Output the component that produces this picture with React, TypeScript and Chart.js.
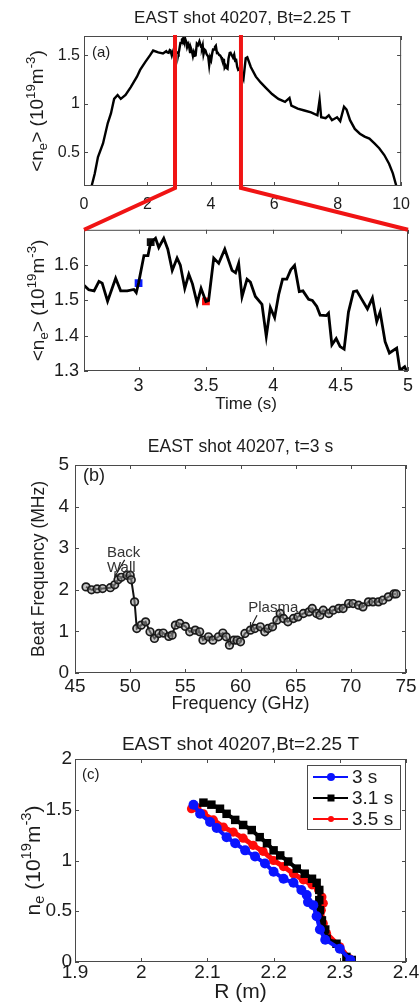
import React, { useEffect, useRef } from "react";
import { Chart, registerables } from "chart.js";

Chart.register(...registerables);

const FONT = '"Liberation Sans", Arial, Helvetica, sans-serif';
const TEXT = "#1c1c1c";
const FRAME = "#4a4a4a";

// ---------------- Panel (a): line-averaged density trace ----------------
const A_EARLY_T = [0.24, 0.34, 0.44, 0.6, 0.75, 0.85, 0.95, 1.06, 1.16, 1.31, 1.47, 1.67, 1.77, 1.93, 2.08, 2.18, 2.34, 2.49];
const A_EARLY_N = [0.15, 0.28, 0.45, 0.59, 0.8, 0.9, 1.05, 1.09, 1.05, 1.09, 1.17, 1.28, 1.35, 1.43, 1.5, 1.55, 1.53, 1.52];

// zoomed window 2.6 - 5 s
const Z_T = [2.595, 2.63, 2.67, 2.706, 2.73, 2.77, 2.83, 2.867, 2.916, 2.965, 2.983, 3.0, 3.04, 3.07, 3.089, 3.126, 3.15, 3.187, 3.217, 3.25, 3.286, 3.31, 3.343, 3.373, 3.4, 3.435, 3.464, 3.5, 3.52, 3.558, 3.595, 3.64, 3.694, 3.72, 3.743, 3.768, 3.805, 3.83, 3.867, 3.916, 3.948, 3.978, 4.01, 4.04, 4.069, 4.1, 4.13, 4.158, 4.193, 4.22, 4.262, 4.29, 4.323, 4.348, 4.393, 4.41, 4.435, 4.467, 4.496, 4.526, 4.558, 4.595, 4.62, 4.657, 4.699, 4.736, 4.768, 4.793, 4.83, 4.862, 4.916, 4.94, 4.975, 5.0];
const Z_N = [1.543, 1.53, 1.527, 1.554, 1.549, 1.498, 1.563, 1.527, 1.527, 1.531, 1.522, 1.549, 1.627, 1.627, 1.663, 1.676, 1.65, 1.676, 1.645, 1.585, 1.62, 1.6, 1.534, 1.574, 1.547, 1.492, 1.534, 1.497, 1.5, 1.62, 1.605, 1.645, 1.585, 1.578, 1.605, 1.51, 1.56, 1.552, 1.511, 1.489, 1.398, 1.48, 1.451, 1.516, 1.56, 1.56, 1.587, 1.599, 1.525, 1.527, 1.503, 1.5, 1.483, 1.458, 1.457, 1.464, 1.374, 1.392, 1.369, 1.362, 1.467, 1.525, 1.527, 1.503, 1.476, 1.507, 1.44, 1.467, 1.383, 1.351, 1.365, 1.302, 1.312, 1.29];

const A_LATE_T = [5.03, 5.1, 5.15, 5.26, 5.42, 5.57, 5.72, 5.93, 6.13, 6.34, 6.48, 6.54, 6.74, 6.95, 7.16, 7.36, 7.43, 7.48, 7.62, 7.72, 7.82, 7.98, 8.08, 8.2, 8.28, 8.39, 8.54, 8.7, 8.85, 9.0, 9.16, 9.31, 9.47, 9.62, 9.74, 9.85];
const A_LATE_N = [1.26, 1.47, 1.48, 1.38, 1.28, 1.22, 1.17, 1.1, 1.05, 1.02, 1.06, 0.98, 0.95, 0.93, 0.91, 0.88, 1.04, 0.86, 0.85, 0.88, 0.83, 0.86, 0.82, 0.97, 0.94, 0.83, 0.74, 0.69, 0.66, 0.64, 0.59, 0.54, 0.47, 0.38, 0.28, 0.15];

const TRACE_T = [...A_EARLY_T, ...Z_T, ...A_LATE_T];
const TRACE_N = [...A_EARLY_N, ...Z_N, ...A_LATE_N];

const A_X_TICKS = [0, 2, 4, 6, 8, 10];
const A_Y_TICKS = [0.5, 1, 1.5];
const ZOOM_MARK = [2.87, 4.95];

const Z_X_TICKS = [3, 3.5, 4, 4.5, 5];
const Z_Y_TICKS = [1.3, 1.4, 1.5, 1.6];
const MARK_T = [3.0, 3.09, 3.5];
const MARK_N = [1.549, 1.665, 1.497];

// ---------------- Panel (b): beat frequency ----------------
const B_FREQ = [46.0, 46.5, 47.0, 47.5, 48.2, 48.6, 48.9, 49.2, 49.7, 50.0, 50.1, 50.4, 50.6, 51.0, 51.4, 51.8, 52.2, 52.6, 53.0, 53.5, 53.8, 54.1, 54.5, 55.0, 55.4, 55.9, 56.3, 56.6, 57.1, 57.5, 58.0, 58.4, 58.7, 59.0, 59.4, 59.7, 60.0, 60.4, 60.9, 61.3, 61.8, 62.2, 62.5, 62.9, 63.3, 63.6, 63.9, 64.3, 64.8, 65.2, 65.7, 66.2, 66.5, 66.9, 67.2, 67.5, 68.0, 68.4, 68.9, 69.3, 69.8, 70.2, 70.7, 71.1, 71.6, 72.0, 72.5, 72.9, 73.4, 73.9, 74.1];
const B_BEAT = [2.07, 2.0, 2.02, 2.03, 2.05, 2.12, 2.24, 2.3, 2.35, 2.35, 2.24, 1.71, 1.07, 1.15, 1.23, 0.99, 0.83, 0.95, 0.96, 0.88, 0.91, 1.15, 1.19, 1.12, 0.99, 1.03, 0.99, 0.79, 0.87, 0.79, 0.87, 0.96, 0.87, 0.67, 0.79, 0.79, 0.75, 0.95, 1.03, 1.07, 1.11, 0.99, 1.07, 1.11, 1.27, 1.43, 1.31, 1.23, 1.31, 1.35, 1.43, 1.47, 1.55, 1.43, 1.39, 1.51, 1.43, 1.51, 1.55, 1.55, 1.67, 1.67, 1.63, 1.59, 1.71, 1.71, 1.71, 1.75, 1.83, 1.9, 1.9];
const B_X_TICKS = [45, 50, 55, 60, 65, 70, 75];
const B_Y_TICKS = [0, 1, 2, 3, 4, 5];
const B_NOTES = [
  { text: "Back", x: 47.9, y: 2.88 },
  { text: "Wall", x: 47.9, y: 2.52 },
  { text: "Plasma", x: 60.7, y: 1.56 },
];
const B_ARROWS = [
  { x1: 49.5, y1: 2.72, x2: 48.6, y2: 2.31 },
  { x1: 61.5, y1: 1.39, x2: 60.9, y2: 1.08 },
];

// ---------------- Panel (c): density profiles ----------------
const C_LABELS = ["3 s", "3.1 s", "3.5 s"];
const C_R_30 = [2.079, 2.089, 2.104, 2.114, 2.129, 2.142, 2.157, 2.172, 2.187, 2.2, 2.215, 2.23, 2.242, 2.25, 2.252, 2.26, 2.265, 2.27, 2.278, 2.3, 2.316];
const C_N_30 = [1.55, 1.46, 1.38, 1.32, 1.23, 1.17, 1.1, 1.04, 0.97, 0.89, 0.82, 0.78, 0.71, 0.66, 0.59, 0.56, 0.45, 0.32, 0.22, 0.13, 0.02];
const C_R_31 = [2.094, 2.106, 2.119, 2.129, 2.142, 2.154, 2.167, 2.179, 2.19, 2.2, 2.21, 2.222, 2.235, 2.247, 2.258, 2.265, 2.269, 2.269, 2.27, 2.273, 2.278, 2.28, 2.295, 2.31, 2.318];
const C_N_31 = [1.57, 1.55, 1.51, 1.46, 1.4, 1.35, 1.3, 1.23, 1.17, 1.1, 1.05, 0.99, 0.92, 0.87, 0.82, 0.78, 0.71, 0.61, 0.51, 0.41, 0.32, 0.23, 0.18, 0.05, 0.02];
const C_R_35 = [2.076, 2.084, 2.094, 2.109, 2.124, 2.139, 2.154, 2.169, 2.184, 2.2, 2.215, 2.23, 2.245, 2.258, 2.268, 2.273, 2.275, 2.272, 2.275, 2.28, 2.3, 2.315];
const C_N_35 = [1.51, 1.52, 1.46, 1.4, 1.33, 1.28, 1.22, 1.15, 1.09, 1.0, 0.94, 0.87, 0.81, 0.76, 0.71, 0.64, 0.58, 0.51, 0.38, 0.28, 0.15, 0.03];
const C_X_TICKS = [1.9, 2, 2.1, 2.2, 2.3, 2.4];
const C_Y_TICKS = [0, 0.5, 1, 1.5, 2];

// ---------------- helpers ----------------
type Part = { t: string; s?: "sub" | "sup" };

const pts = (xs: number[], ys: number[]) => xs.map((x, i) => ({ x, y: ys[i] }));

function drawRich(ctx: CanvasRenderingContext2D, parts: Part[], x: number, y: number, size: number, rotate: boolean) {
  ctx.save();
  ctx.translate(x, y);
  if (rotate) ctx.rotate(-Math.PI / 2);
  const fontFor = (p: Part) => `${p.s ? size * 0.7 : size}px ${FONT}`;
  const widths = parts.map((p) => {
    ctx.font = fontFor(p);
    return ctx.measureText(p.t).width;
  });
  const total = widths.reduce((a, b) => a + b, 0);
  let cx = -total / 2;
  ctx.textBaseline = "alphabetic";
  ctx.textAlign = "left";
  ctx.fillStyle = TEXT;
  parts.forEach((p, i) => {
    ctx.font = fontFor(p);
    const dy = p.s === "sup" ? -size * 0.4 : p.s === "sub" ? size * 0.22 : 0;
    ctx.fillText(p.t, cx, size * 0.36 + dy);
    cx += widths[i];
  });
  ctx.restore();
}

const deco = {
  id: "deco",
  afterDraw(chart: any, _args: any, o: any) {
    const { ctx, chartArea: ca } = chart;
    const sx = chart.scales.x;
    const sy = chart.scales.y;
    ctx.save();
    if (o.notes) {
      ctx.fillStyle = "#333";
      ctx.font = `${o.noteSize}px ${FONT}`;
      ctx.textAlign = "left";
      ctx.textBaseline = "middle";
      o.notes.forEach((n: any) => ctx.fillText(n.text, sx.getPixelForValue(n.x), sy.getPixelForValue(n.y)));
    }
    if (o.arrows) {
      ctx.strokeStyle = "#222";
      ctx.lineWidth = 1.2;
      o.arrows.forEach((a: any) => {
        const x1 = sx.getPixelForValue(a.x1), y1 = sy.getPixelForValue(a.y1);
        const x2 = sx.getPixelForValue(a.x2), y2 = sy.getPixelForValue(a.y2);
        const ang = Math.atan2(y2 - y1, x2 - x1);
        ctx.beginPath();
        ctx.moveTo(x1, y1);
        ctx.lineTo(x2, y2);
        ctx.moveTo(x2 - 6 * Math.cos(ang - 0.45), y2 - 6 * Math.sin(ang - 0.45));
        ctx.lineTo(x2, y2);
        ctx.lineTo(x2 - 6 * Math.cos(ang + 0.45), y2 - 6 * Math.sin(ang + 0.45));
        ctx.stroke();
      });
    }
    ctx.strokeStyle = FRAME;
    ctx.lineWidth = 1;
    ctx.strokeRect(ca.left + 0.5, ca.top + 0.5, ca.right - ca.left - 1, ca.bottom - ca.top - 1);
    const L = 4;
    ctx.beginPath();
    sx.ticks.forEach((t: any) => {
      const p = Math.round(sx.getPixelForValue(t.value)) + 0.5;
      ctx.moveTo(p, ca.bottom);
      ctx.lineTo(p, ca.bottom - L);
      ctx.moveTo(p, ca.top);
      ctx.lineTo(p, ca.top + L);
    });
    sy.ticks.forEach((t: any) => {
      const p = Math.round(sy.getPixelForValue(t.value)) + 0.5;
      ctx.moveTo(ca.left, p);
      ctx.lineTo(ca.left + L, p);
      ctx.moveTo(ca.right, p);
      ctx.lineTo(ca.right - L, p);
    });
    ctx.stroke();
    ctx.fillStyle = TEXT;
    ctx.textBaseline = "middle";
    if (o.title) {
      ctx.font = `${o.titleSize}px ${FONT}`;
      ctx.textAlign = "center";
      ctx.fillText(o.title, (ca.left + ca.right) / 2, ca.top - o.titleOff);
    }
    if (o.tag) {
      ctx.font = `${o.tagSize}px ${FONT}`;
      ctx.textAlign = "left";
      ctx.fillText(o.tag, ca.left + o.tagDx, ca.top + o.tagDy);
    }
    if (o.xlabel) {
      ctx.font = `${o.xlabelSize}px ${FONT}`;
      ctx.textAlign = "center";
      ctx.fillText(o.xlabel, (ca.left + ca.right) / 2, ca.bottom + o.xlabelOff);
    }
    if (o.ylabel) {
      drawRich(ctx, o.ylabel, o.ylabelX, (ca.top + ca.bottom) / 2, o.ylabelSize, true);
    }
    if (o.legend) {
      const lg = o.legend;
      const bx = ca.right - lg.dRight - lg.w;
      const by = ca.top + lg.dTop;
      ctx.fillStyle = "#fff";
      ctx.fillRect(bx, by, lg.w, lg.h);
      ctx.strokeStyle = FRAME;
      ctx.lineWidth = 1;
      ctx.strokeRect(bx + 0.5, by + 0.5, lg.w, lg.h);
      chart.data.datasets.forEach((ds: any, i: number) => {
        const yy = by + lg.rows[i];
        ctx.strokeStyle = ds.borderColor;
        ctx.lineWidth = 2;
        ctx.beginPath();
        ctx.moveTo(bx + 6, yy);
        ctx.lineTo(bx + 41, yy);
        ctx.stroke();
        ctx.fillStyle = ds.pointBackgroundColor;
        const r = lg.markR[i];
        ctx.beginPath();
        if (ds.pointStyle === "rect") ctx.rect(bx + 24 - r, yy - r, 2 * r, 2 * r);
        else ctx.arc(bx + 24, yy, r, 0, Math.PI * 2);
        ctx.fill();
        ctx.fillStyle = TEXT;
        ctx.font = `${lg.size}px ${FONT}`;
        ctx.textAlign = "left";
        ctx.textBaseline = "middle";
        ctx.fillText(ds.label, bx + 45, yy + 1);
      });
    }
    ctx.restore();
  },
};

function axis(min: number, max: number, ticks: number[], size: number, pad: number, fit: (s: any) => void) {
  return {
    type: "linear" as const,
    min,
    max,
    grid: { display: false, drawTicks: false },
    border: { display: false },
    afterBuildTicks: (s: any) => {
      s.ticks = ticks.map((v) => ({ value: v }));
    },
    afterFit: fit,
    ticks: {
      font: { family: FONT, size },
      color: TEXT,
      padding: pad,
      maxRotation: 0,
      autoSkip: false,
      callback: (v: any) => String(v),
    },
  };
}

function baseOptions(padTop: number, padRight: number, xAxis: any, yAxis: any, decoOpts: any) {
  return {
    responsive: false,
    animation: false as const,
    events: [] as any[],
    layout: { padding: { left: 0, right: padRight, top: padTop, bottom: 0 } },
    scales: { x: xAxis, y: yAxis },
    plugins: { legend: { display: false }, tooltip: { enabled: false }, deco: decoOpts },
  };
}

const A_TOP = 0, A_H = 214;
const Z_TOP = 214, Z_H = 206;
const B_TOP = 420, B_H = 305;
const C_TOP = 725, C_H = 280;

export default function App() {
  const aRef = useRef<HTMLCanvasElement>(null);
  const zRef = useRef<HTMLCanvasElement>(null);
  const bRef = useRef<HTMLCanvasElement>(null);
  const cRef = useRef<HTMLCanvasElement>(null);
  const ovRef = useRef<HTMLCanvasElement>(null);

  useEffect(() => {
    const charts: Chart[] = [];

    const chartA = new Chart(aRef.current!, {
      type: "line",
      data: {
        datasets: [
          { data: pts(TRACE_T, TRACE_N), borderColor: "#000", borderWidth: 2.4, pointRadius: 0, tension: 0 },
        ],
      },
      options: baseOptions(
        36,
        419 - 408,
        axis(0, 10, A_X_TICKS, 16, 9, (s: any) => { s.height = A_H - 186; }),
        axis(0.15, 1.7, A_Y_TICKS, 16, 4, (s: any) => { s.width = 84; }),
        {
          title: "EAST shot 40207, Bt=2.25 T", titleSize: 17, titleOff: 18,
          tag: "(a)", tagSize: 15, tagDx: 8, tagDy: 17,
          ylabel: [{ t: "<n" }, { t: "e", s: "sub" }, { t: "> (10" }, { t: "19", s: "sup" }, { t: "m" }, { t: "-3", s: "sup" }, { t: ")" }],
          ylabelX: 36, ylabelSize: 19,
        }
      ) as any,
      plugins: [deco],
    });
    charts.push(chartA);

    const chartZ = new Chart(zRef.current!, {
      type: "line",
      data: {
        datasets: [
          { data: pts(Z_T, Z_N), borderColor: "#000", borderWidth: 2.8, pointRadius: 0, tension: 0 },
          {
            data: pts(MARK_T, MARK_N), showLine: false, pointStyle: "rect", pointRadius: 5.5, pointBorderWidth: 0,
            pointBackgroundColor: ["#0a1cff", "#111111", "#ff1010"], borderColor: "transparent",
          },
        ],
      },
      options: baseOptions(
        220 - Z_TOP,
        419 - 408,
        axis(2.595, 5, Z_X_TICKS, 18, 4, (s: any) => { s.height = Z_TOP + Z_H - 371; }),
        axis(1.3, 1.7, Z_Y_TICKS, 18, 5, (s: any) => { s.width = 84; }),
        {
          xlabel: "Time (s)", xlabelSize: 17, xlabelOff: 33,
          ylabel: [{ t: "<n" }, { t: "e", s: "sub" }, { t: "> (10" }, { t: "19", s: "sup" }, { t: "m" }, { t: "-3", s: "sup" }, { t: ")" }],
          ylabelX: 37, ylabelSize: 19,
        }
      ) as any,
      plugins: [deco],
    });
    charts.push(chartZ);

    const chartB = new Chart(bRef.current!, {
      type: "line",
      data: {
        datasets: [
          {
            data: pts(B_FREQ, B_BEAT), borderColor: "#111", borderWidth: 2, tension: 0,
            pointRadius: 3.8, pointBorderWidth: 1.7, pointBorderColor: "#1a1a1a", pointBackgroundColor: "rgba(150,150,150,0.55)",
          },
        ],
      },
      options: baseOptions(
        465 - B_TOP,
        419 - 406,
        axis(45, 75, B_X_TICKS, 19, 2, (s: any) => { s.height = B_TOP + B_H - 673; }),
        axis(0, 5, B_Y_TICKS, 19, 6, (s: any) => { s.width = 75; }),
        {
          title: "EAST shot 40207, t=3 s", titleSize: 17.5, titleOff: 18,
          tag: "(b)", tagSize: 18, tagDx: 8, tagDy: 11,
          xlabel: "Frequency (GHz)", xlabelSize: 18, xlabelOff: 31,
          ylabel: [{ t: "Beat Frequency (MHz)" }], ylabelX: 38, ylabelSize: 17.5,
          notes: B_NOTES, noteSize: 15, arrows: B_ARROWS,
        }
      ) as any,
      plugins: [deco],
    });
    charts.push(chartB);

    const chartC = new Chart(cRef.current!, {
      type: "line",
      data: {
        datasets: [
          {
            label: C_LABELS[0], data: pts(C_R_30, C_N_30), borderColor: "#0a14ff", borderWidth: 4, tension: 0,
            pointStyle: "circle", pointRadius: 5, pointBorderWidth: 0, pointBackgroundColor: "#0a14ff",
          },
          {
            label: C_LABELS[1], data: pts(C_R_31, C_N_31), borderColor: "#000", borderWidth: 4, tension: 0,
            pointStyle: "rect", pointRadius: 6, pointBorderWidth: 0, pointBackgroundColor: "#000",
          },
          {
            label: C_LABELS[2], data: pts(C_R_35, C_N_35), borderColor: "#ff0a0a", borderWidth: 5, tension: 0,
            pointStyle: "circle", pointRadius: 4.6, pointBorderWidth: 0, pointBackgroundColor: "#ff0a0a",
          },
        ],
      },
      options: baseOptions(
        759 - C_TOP,
        419 - 406,
        axis(1.9, 2.4, C_X_TICKS, 19, -1, (s: any) => { s.height = C_TOP + C_H - 962; }),
        axis(0, 2, C_Y_TICKS, 19, 3, (s: any) => { s.width = 75; }),
        {
          title: "EAST shot 40207,Bt=2.25 T", titleSize: 19, titleOff: 14,
          tag: "(c)", tagSize: 15, tagDx: 7, tagDy: 16,
          xlabel: "R (m)", xlabelSize: 21, xlabelOff: 30,
          ylabel: [{ t: "n" }, { t: "e", s: "sub" }, { t: " (10" }, { t: "19", s: "sup" }, { t: "m" }, { t: "-3", s: "sup" }, { t: ")" }],
          ylabelX: 32, ylabelSize: 21,
          legend: { dRight: 6, dTop: 6, w: 93, h: 64, rows: [12, 33, 54], markR: [4, 3.5, 3], size: 19 },
        }
      ) as any,
      plugins: [deco],
    });
    charts.push(chartC);

    const ov = ovRef.current!.getContext("2d")!;
    ov.clearRect(0, 0, 419, 1005);
    const xa = chartA.scales.x;
    const aTop = A_TOP + chartA.chartArea.top - 1;
    const aBot = A_TOP + chartA.chartArea.bottom + 2;
    const zTop = Z_TOP + chartZ.chartArea.top;
    const zLeft = chartZ.chartArea.left;
    const zRight = chartZ.chartArea.right;
    const x1 = xa.getPixelForValue(ZOOM_MARK[0]);
    const x2 = xa.getPixelForValue(ZOOM_MARK[1]);
    ov.strokeStyle = "#f01414";
    ov.lineWidth = 4;
    ov.lineJoin = "miter";
    ov.beginPath();
    ov.moveTo(x1, aTop);
    ov.lineTo(x1, aBot);
    ov.lineTo(zLeft, zTop);
    ov.moveTo(x2, aTop);
    ov.lineTo(x2, aBot);
    ov.lineTo(zRight, zTop);
    ov.stroke();

    return () => {
      charts.forEach((c) => c.destroy());
      ov.clearRect(0, 0, 419, 1005);
    };
  }, []);

  const abs = (top: number): React.CSSProperties => ({ position: "absolute", left: 0, top });
  return (
    <div style={{ position: "absolute", left: 0, top: 0, width: 419, height: 1005, background: "#fff", overflow: "hidden" }}>
      <canvas ref={aRef} width={419} height={A_H} style={abs(A_TOP)} />
      <canvas ref={zRef} width={419} height={Z_H} style={abs(Z_TOP)} />
      <canvas ref={bRef} width={419} height={B_H} style={abs(B_TOP)} />
      <canvas ref={cRef} width={419} height={C_H} style={abs(C_TOP)} />
      <canvas ref={ovRef} width={419} height={1005} style={{ ...abs(0), pointerEvents: "none" }} />
    </div>
  );
}
